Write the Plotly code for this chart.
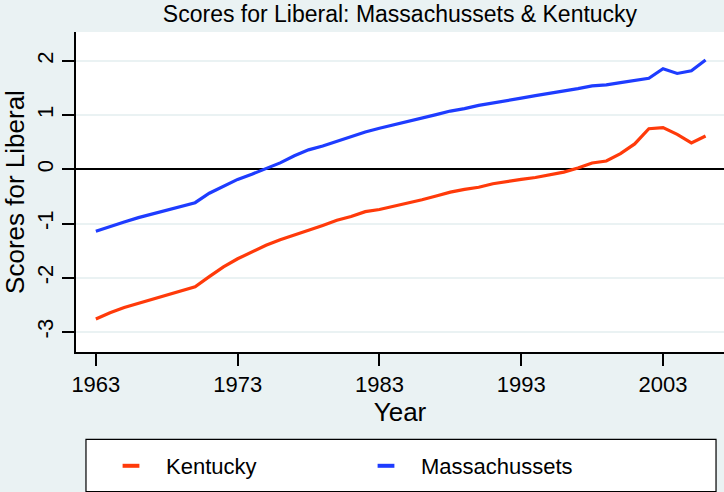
import plotly.graph_objects as go

years = list(range(1963, 2007))
kentucky = [-2.76, -2.645, -2.55, -2.47, -2.40, -2.32, -2.24, -2.165, -1.98, -1.80,
            -1.65, -1.525, -1.40, -1.30, -1.22, -1.125, -1.035, -0.94, -0.87, -0.78,
            -0.74, -0.68, -0.63, -0.56, -0.49, -0.42, -0.37, -0.33, -0.265, -0.22,
            -0.185, -0.15, -0.105, -0.05, 0.025, 0.117, 0.155, 0.29, 0.47, 0.75,
            0.77, 0.645, 0.49, 0.615]
massachussets = [-1.14, -1.05, -0.97, -0.89, -0.82, -0.76, -0.68, -0.615, -0.44, -0.31,
                 -0.185, -0.09, 0.01, 0.12, 0.25, 0.36, 0.43, 0.52, 0.615, 0.69,
                 0.76, 0.82, 0.88, 0.95, 1.01, 1.076, 1.12, 1.18, 1.23, 1.27,
                 1.316, 1.36, 1.40, 1.445, 1.49, 1.54, 1.56, 1.60, 1.64, 1.68,
                 1.857, 1.77, 1.82, 2.02]
x_ticks = [1963, 1973, 1983, 1993, 2003]
y_ticks = [-3, -2, -1, 0, 1, 2]
y_tick_labels = ["-3", "-2", "-1", "0", "1", "2"]

RED = "#FF3A0A"
BLUE = "#1E3CFF"
BG = "#EAF2F3"
FONT = "Liberation Sans, Arial, Helvetica, sans-serif"

fig = go.Figure()
fig.add_trace(go.Scatter(x=years, y=kentucky, mode="lines", line=dict(color=RED, width=3.2),
                         showlegend=False, name="Kentucky"))
fig.add_trace(go.Scatter(x=years, y=massachussets, mode="lines", line=dict(color=BLUE, width=3.2),
                         showlegend=False, name="Massachussets"))
# legend entries
fig.add_trace(go.Scatter(x=[None], y=[None], mode="markers", name="Kentucky",
                         marker=dict(symbol="line-ew", size=12, line=dict(color=RED, width=4))))
fig.add_trace(go.Scatter(x=[None], y=[None], mode="markers", name="Massachussets",
                         marker=dict(symbol="line-ew", size=12, line=dict(color=BLUE, width=4))))

fig.update_layout(
    width=724, height=492,
    margin=dict(l=76, r=0, t=32, b=140, autoexpand=False),
    paper_bgcolor=BG, plot_bgcolor="white",
    font=dict(family=FONT, size=22, color="black"),
    title=dict(text="Scores for Liberal: Massachussets & Kentucky", x=0.5, xref="paper",
               y=1 - 14 / 492, yref="container", yanchor="middle", xanchor="center",
               font=dict(size=23)),
    xaxis=dict(range=[1961.6, 2007.3], tickvals=x_ticks, ticks="outside", ticklen=12,
               tickwidth=1.5, tickcolor="black", showline=True, linecolor="black",
               linewidth=1.5, showgrid=False, zeroline=False, automargin=False,
               title=dict(text="Year", standoff=4)),
    yaxis=dict(range=[-3.37, 2.535], tickvals=y_ticks, ticktext=y_tick_labels,
               tickangle=-90, ticks="outside",
               ticklen=12, tickwidth=1.5, tickcolor="black", showline=True,
               linecolor="black", linewidth=1.5, gridcolor=BG, gridwidth=1.5,
               zeroline=True, zerolinecolor="black", zerolinewidth=2, automargin=False,
               title=dict(text="Scores for Liberal", standoff=8)),
    legend=dict(orientation="h", xref="container", x=96 / 724, xanchor="left",
                yref="container", y=1 - 466 / 492, yanchor="middle",
                bgcolor="rgba(0,0,0,0)", borderwidth=0, itemwidth=60, entrywidth=180,
                entrywidthmode="pixels", font=dict(size=22)),
    shapes=[dict(type="rect", xref="paper", yref="paper", x0=0.0154, x1=0.9877,
                 y0=-0.273, y1=-0.436, line=dict(color="black", width=1.2),
                 fillcolor="white", layer="below")],
)

fig.write_html("out.html", config={"displayModeBar": False},
               post_script="document.body.style.margin='0';")
